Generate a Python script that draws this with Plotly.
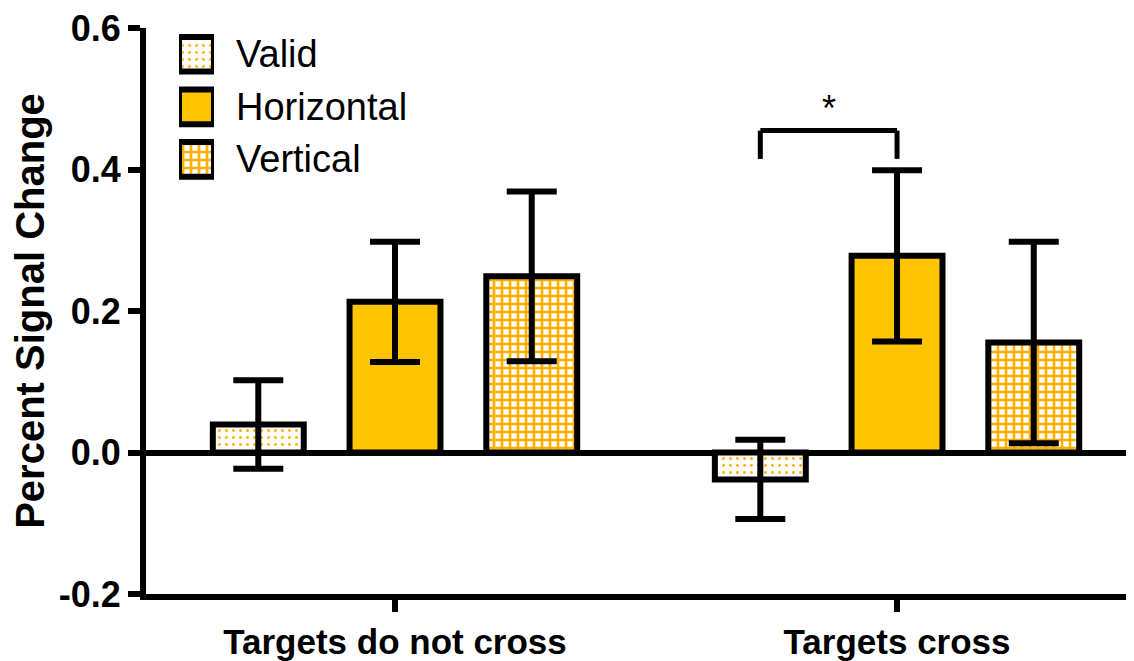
import plotly.graph_objects as go

categories = ["Targets do not cross", "Targets cross"]
series = ["Valid", "Horizontal", "Vertical"]
valid_mean = [0.0395, -0.038]
valid_err = [0.0625, 0.056]
horizontal_mean = [0.213, 0.278]
horizontal_err = [0.085, 0.121]
vertical_mean = [0.249, 0.1555]
vertical_err = [0.12, 0.1425]
y_tickvals = [-0.2, 0.0, 0.2, 0.4, 0.6]
y_ticktext = ["-0.2", "0.0", "0.2", "0.4", "0.6"]
sig_pair_category = 1
sig_bracket_top = 0.455
sig_bracket_bottom = 0.415
sig_label = "*"

FONT = "Liberation Sans, Arial, Helvetica, sans-serif"
ORANGE = "#FFC400"
PAT = "#FFB000"

styles = {
    "Valid": dict(color="white", pattern=dict(shape=".", fgcolor=PAT, bgcolor="white",
                                              fillmode="replace", size=7, solidity=0.13)),
    "Horizontal": dict(color=ORANGE, pattern=dict(shape="")),
    "Vertical": dict(color="white", pattern=dict(shape="+", fgcolor=PAT, bgcolor="white",
                                                 fillmode="replace", size=8, solidity=0.55)),
}

means = [valid_mean, horizontal_mean, vertical_mean]
errs = [valid_err, horizontal_err, vertical_err]

BARGAP = 0.183
BARGROUPGAP = 0.335

fig = go.Figure()
for name, m, e in zip(series, means, errs):
    st = styles[name]
    fig.add_trace(go.Bar(
        x=categories, y=m, name=name,
        marker=dict(color=st["color"], pattern=st["pattern"],
                    line=dict(color="black", width=6)),
        error_y=dict(type="data", array=e, visible=True, color="black",
                     thickness=6, width=25),
        showlegend=False, hoverinfo="skip",
    ))

# custom legend swatches drawn as bars on an inset axis
for name in series:
    st = styles[name]
    fig.add_trace(go.Bar(
        y=[name], x=[1], orientation="h", xaxis="x2", yaxis="y2",
        width=0.66, offsetgroup="legend",
        marker=dict(color=st["color"], pattern=st["pattern"],
                    line=dict(color="black", width=6)),
        showlegend=False, hoverinfo="skip",
    ))

annotations = []
for s in series:
    annotations.append(dict(x=1, y=s, xref="x2", yref="y2", text=s, showarrow=False,
                            xanchor="left", yanchor="middle", xshift=20,
                            font=dict(family=FONT, size=38, color="black")))

slot = (1 - BARGAP) / 3
x0 = sig_pair_category - slot
x1 = sig_pair_category
shapes = [
    dict(type="line", xref="x", yref="y", x0=x0, x1=x0, y0=sig_bracket_bottom, y1=sig_bracket_top,
         line=dict(color="black", width=5)),
    dict(type="line", xref="x", yref="y", x0=x0, x1=x1, y0=sig_bracket_top, y1=sig_bracket_top,
         line=dict(color="black", width=5)),
    dict(type="line", xref="x", yref="y", x0=x1, x1=x1, y0=sig_bracket_bottom, y1=sig_bracket_top,
         line=dict(color="black", width=5)),
]
annotations.append(dict(x=(x0 + x1) / 2, y=sig_bracket_top, xref="x", yref="y", text=sig_label,
                        showarrow=False, yanchor="bottom", yshift=0,
                        font=dict(family=FONT, size=36, color="black")))

# page body has an 8px default margin, so the figure is 8px smaller than the window
fig.update_layout(
    width=1126, height=653,
    margin=dict(l=138, r=0, t=17, b=65),
    plot_bgcolor="white", paper_bgcolor="white",
    barmode="group", bargap=BARGAP, bargroupgap=BARGROUPGAP,
    font=dict(family=FONT, color="black"),
    xaxis=dict(type="category", range=[-0.496, 1.472], showline=True, linewidth=6,
               linecolor="black", ticks="outside", ticklen=12, tickwidth=6, tickcolor="black",
               showgrid=False, zeroline=False, ticklabeloverflow="allow",
               tickfont=dict(family=FONT, size=35, color="black", weight="bold")),
    yaxis=dict(range=[-0.2, 0.6], tickvals=y_tickvals, ticktext=y_ticktext, showline=True,
               linewidth=6, linecolor="black", ticks="outside", ticklen=12, tickwidth=6,
               tickcolor="black", showgrid=False, zeroline=True, zerolinewidth=6,
               zerolinecolor="black", ticklabeloverflow="allow",
               tickfont=dict(family=FONT, size=36, color="black", weight="bold"),
               title=dict(text="Percent Signal Change", standoff=14,
                          font=dict(family=FONT, size=40, color="black", weight="bold"))),
    xaxis2=dict(domain=[(179 - 146) / 988, (214 - 146) / 988], range=[0, 1], visible=False,
                anchor="y2", fixedrange=True),
    yaxis2=dict(domain=[0.7215, 1.0], type="category", categoryorder="array",
                categoryarray=series, range=[2.5, -0.5], visible=False, anchor="x2",
                fixedrange=True),
    shapes=shapes,
    annotations=annotations,
    showlegend=False,
)

fig.write_html("out.html")
